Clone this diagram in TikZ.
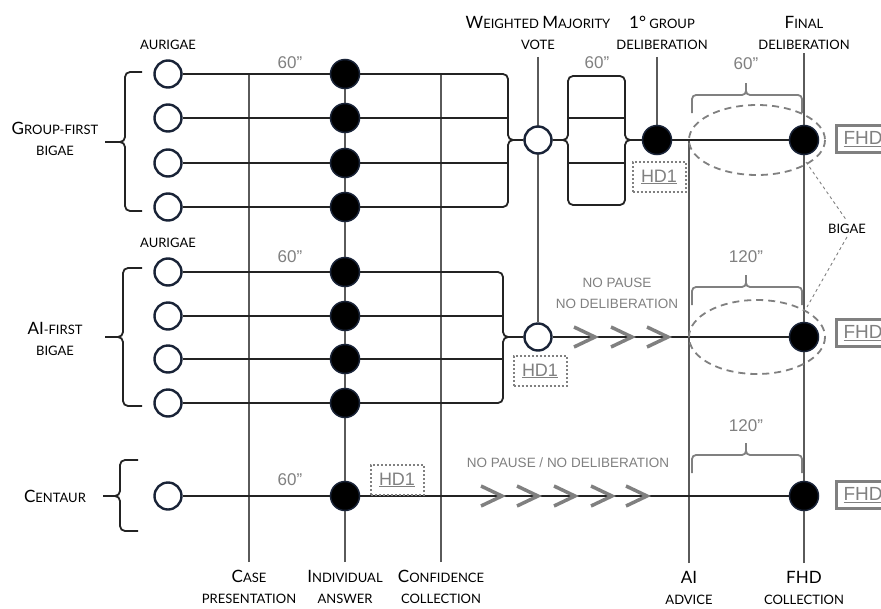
\documentclass[tikz,border=0pt]{standalone}
\usepackage{fontspec}
\setmainfont{Liberation Sans}
\newfontfamily\capsfont{Lato}
\usetikzlibrary{positioning,calc,backgrounds}
\definecolor{LineDark}{RGB}{35,35,35}
\definecolor{LineGrey}{RGB}{90,90,90}
\definecolor{LabelGrey}{RGB}{128,128,128}
\definecolor{RingBlue}{RGB}{25,35,55}
\newcommand{\Initial}[1]{{\fontsize{17}{18}\selectfont #1}}

\begin{document}
\begin{tikzpicture}[x=1pt,y=-1pt,
    aur/.style={circle,draw=RingBlue,fill=white,line width=2.4pt,minimum size=27pt,inner sep=0pt},
    ans/.style={circle,draw=RingBlue,fill=black,line width=1.5pt,minimum size=29pt,inner sep=0pt},
    lbl/.style={font=\capsfont\fontsize{13}{21}\selectfont,align=center,inner sep=3pt},
    gry/.style={text=LabelGrey,font=\fontsize{13.5}{21}\selectfont,align=center},
    sec/.style={text=LabelGrey,font=\fontsize{17}{18}\selectfont},
    row/.style={LineDark,line width=1.8pt},
    stage/.style={LineGrey,line width=1.8pt},
    grp/.style={LineDark,line width=1.8pt,rounded corners=5pt},
    span/.style={LabelGrey,line width=1.8pt,rounded corners=4pt},
    halo/.style={LabelGrey,dash pattern=on 7pt off 5pt,line width=1.8pt},
    link/.style={LabelGrey,dash pattern=on 3pt off 3pt,line width=0.9pt},
    chev/.style={LabelGrey,line width=3.5pt},
    hdbox/.style={draw=LabelGrey,dotted,line width=2pt,text=LabelGrey,font=\fontsize{18}{18}\selectfont,
                  minimum width=53pt,minimum height=30pt,inner sep=2pt},
    fhdbox/.style={draw=LabelGrey,line width=3pt,text=LabelGrey,font=\fontsize{19}{19}\selectfont,
                   minimum height=27pt,minimum width=70pt,anchor=west,inner sep=5pt,text width=56pt}
  ]
    \useasboundingbox (0,0) rectangle (881,608);
    \clip (0,0) rectangle (881,608);

    % aurigae and individual answers
    \foreach \i/\y in {1/74,2/118,3/163,4/207} {
      \node[aur] (ga\i) at (168,\y) {};
      \node[ans] (gi\i) at (345,\y) {};
    }
    \foreach \i/\y in {1/272,2/316,3/359,4/403} {
      \node[aur] (aa\i) at (168,\y) {};
      \node[ans] (ai\i) at (345,\y) {};
    }
    \node[aur] (ca) at (168,496) {};
    \node[ans] (ci) at (345,496) {};

    % votes and deliberations
    \node[aur] (gv) at (538,140) {};
    \node[aur] (av) at (538,337) {};
    \node[ans] (gd) at (657,140) {};
    \node[ans] (gf) at (804,140) {};
    \node[ans] (af) at (804,337) {};
    \node[ans] (cf) at (804,496) {};

    % stage labels
    \node[lbl] (wmv) at (538,33) {\Initial{W}EIGHTED \Initial{M}AJORITY\\VOTE};
    \node[lbl] (gdl) at (662,33) {\Initial{1°} GROUP\\DELIBERATION};
    \node[lbl] (fdl) at (804,33) {\Initial{F}INAL\\DELIBERATION};
    \node[lbl] (cpr) at (249,587) {\Initial{C}ASE\\PRESENTATION};
    \node[lbl] (ind) at (345,587) {\Initial{I}NDIVIDUAL\\ANSWER};
    \node[lbl] (cfc) at (441,587) {\Initial{C}ONFIDENCE\\COLLECTION};
    \node[lbl] (aia) at (689,588) {\Initial{AI}\\ADVICE};
    \node[lbl] (fhc) at (804,588) {\Initial{FHD}\\COLLECTION};

    % arm labels
    \node[lbl] at (55,139) {\Initial{G}ROUP-FIRST\\BIGAE};
    \node[lbl] at (55,339) {\Initial{AI}-FIRST\\BIGAE};
    \node[lbl] at (55,496) {\Initial{C}ENTAUR};
    \node[lbl,above=6pt of ga1] {AURIGAE};
    \node[lbl,above=6pt of aa1] {AURIGAE};
    \node[lbl] (bigae) at (847,229) {BIGAE};

    % durations
    \node[sec] at (290,63) {60”};
    \node[sec] at (290,257) {60”};
    \node[sec] at (290,480) {60”};
    \node[sec] at (597,63) {60”};
    \node[sec] at (746,64) {60”};
    \node[sec] at (746,257) {120”};
    \node[sec] at (746,426) {120”};
    \node[gry] at (617,293) {NO PAUSE\\NO DELIBERATION};
    \node[gry] at (568,463) {NO PAUSE / NO DELIBERATION};

    % decisions
    \node[hdbox] (hg) at (659,177) {\underline{HD1}};
    \node[hdbox] (ha) at (540,371) {\underline{HD1}};
    \node[hdbox] (hc) at (397,480) {\underline{HD1}};
    \node[fhdbox] (fg) at (835,139) {\underline{FHD}};
    \node[fhdbox] (fa) at (835,333) {\underline{FHD}};
    \node[fhdbox] (fc) at (835,495) {\underline{FHD}};

    \begin{scope}[on background layer]
      % time lines
      \draw[stage,shorten <=5pt] (cpr.north) -- (cpr.north |- ga1);
      \draw[stage,shorten <=5pt] (ind.north) -- (gi1);
      \draw[stage,shorten <=5pt] (cfc.north) -- (cfc.north |- ga1);
      \draw[stage,shorten <=5pt] (aia.north) -- (aia.north |- gd);
      \draw[stage,shorten <=5pt] (fhc.north) -- (fdl.south);
      \draw[stage,shorten <=4pt] (wmv.south) -- (av);
      \draw[stage,shorten <=4pt] (gd |- gdl.south) -- (gd);

      % group-first arm
      \draw[grp] (ga1) -- (508,74) -- (508,140) -- (gv.west);
      \draw[grp] (ga4) -- (508,207) -- (508,140) -- (gv.west);
      \draw[row] (ga2) -- (508,118);
      \draw[row] (ga3) -- (508,163);
      \draw[grp] (gv.east) -- (568,140) -- (568,76) -- (625,76) -- (625,140) -- (gd.west);
      \draw[grp] (gv.east) -- (568,140) -- (568,205) -- (625,205) -- (625,140) -- (gd.west);
      \draw[row] (568,118) -- (625,118);
      \draw[row] (568,163) -- (625,163);
      \draw[row] (gd) -- (gf);

      % ai-first arm
      \draw[grp] (aa1) -- (503,272) -- (503,337) -- (av.west);
      \draw[grp] (aa4) -- (503,403) -- (503,337) -- (av.west);
      \draw[row] (aa2) -- (503,316);
      \draw[row] (aa3) -- (503,359);
      \draw[row] (av) -- (af);

      % centaur arm
      \draw[row] (ca) -- (cf);
    \end{scope}

    % no pause
    \foreach \x in {595,632,668}
      \draw[chev] (\x-21,327) -- (\x,337) -- (\x-21,347);
    \foreach \x in {502,538,575,612,647}
      \draw[chev] (\x-21,486) -- (\x,496) -- (\x-21,506);

    % arm braces
    \draw[grp] (142,72) -- (125,72) -- (125,142) -- (105,142);
    \draw[grp] (105,142) -- (125,142) -- (125,211) -- (142,211);
    \draw[grp] (142,268) -- (123,268) -- (123,337) -- (105,337);
    \draw[grp] (105,337) -- (123,337) -- (123,406) -- (142,406);
    \draw[grp] (138,460) -- (120,460) -- (120,496) -- (103,496);
    \draw[grp] (103,496) -- (120,496) -- (120,531) -- (138,531);

    % deliberation spans
    \foreach \y in {113,305,473} {
      \draw[span] (692,\y) -- (692,\y-18) -- (746,\y-18) -- (746,\y-30);
      \draw[span] (746,\y-30) -- (746,\y-18) -- (802,\y-18) -- (802,\y);
    }
    \draw[halo] (757,140) ellipse [x radius=68, y radius=35];
    \draw[halo] (757,337) ellipse [x radius=68, y radius=37];
    \coordinate (gring) at (806,162);
    \coordinate (aring) at (807,307);
    \draw[link] (gring) -- (bigae.north);
    \draw[link] (bigae.south) -- (aring);
  \end{tikzpicture}
\end{document}
